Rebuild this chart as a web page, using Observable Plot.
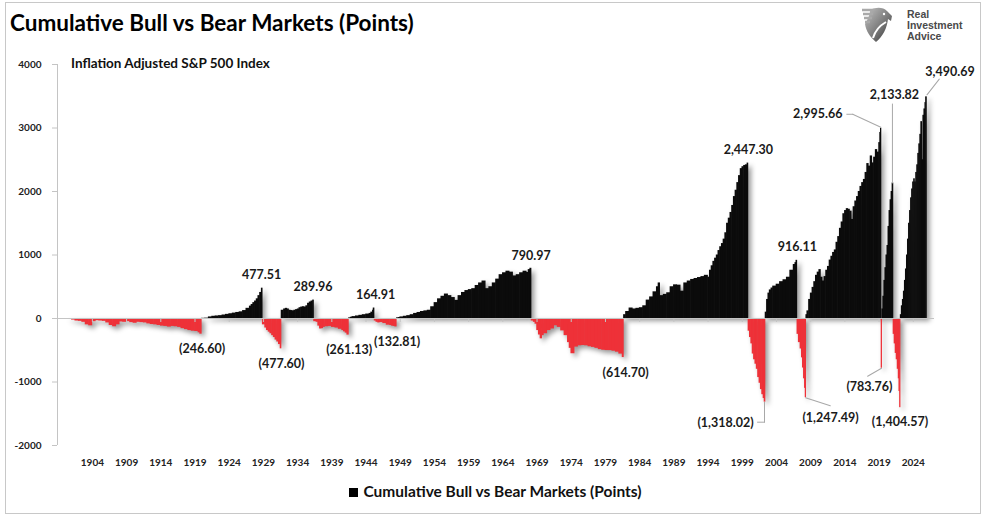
<!DOCTYPE html>
<html>
<head>
<meta charset="utf-8">
<script src="https://cdn.jsdelivr.net/npm/d3@7"></script>
<script src="https://cdn.jsdelivr.net/npm/@observablehq/plot@0.6"></script>
<style>
  html, body { margin: 0; padding: 0; background: #fff; }
  #wrap { position: relative; width: 991px; height: 522px; overflow: hidden; font-family: Lato, "Open Sans", sans-serif; }
  #frame { position: absolute; left: 5px; top: 2px; width: 976px; height: 512px; border: 1px solid #c8c8c8; box-sizing: border-box; }
  #title { position: absolute; left: 10px; top: 12px; font-size: 22.5px; line-height: 1; font-weight: 700; color: #000; white-space: nowrap; }
  #subtitle { position: absolute; left: 71px; top: 57px; font-size: 13.5px; line-height: 1; font-weight: 700; color: #111; white-space: nowrap; }
  #legend { position: absolute; left: 0; width: 991px; top: 484px; text-align: center; font-size: 15.5px; line-height: 1; font-weight: 700; color: #111; white-space: nowrap; }
  #legend .sw { display: inline-block; width: 9px; height: 9px; background: #000; margin-right: 5px; vertical-align: baseline; }
  #chart { position: absolute; left: 0; top: 0; }
  #logo { position: absolute; left: 861px; top: 7px; }
  #logotext { position: absolute; left: 907px; top: 9px; font-family: "Liberation Sans", Arial, sans-serif; font-size: 10.5px; font-weight: 700; line-height: 11px; color: #4a4a4a; }
  g[aria-label="rect"] { filter: drop-shadow(3px 3px 2.5px rgba(0,0,0,0.4)); }
</style>
</head>
<body>
<div id="wrap">
  <div id="frame"></div>
  <div id="title">Cumulative Bull vs Bear Markets (Points)</div>
  <svg id="logo" width="32" height="36" viewBox="0 0 32 36">
    <defs>
      <linearGradient id="lg" x1="0" y1="0" x2="1" y2="1">
        <stop offset="0" stop-color="#c2c2c2"/>
        <stop offset="0.55" stop-color="#7a7a7a"/>
        <stop offset="1" stop-color="#2e2e2e"/>
      </linearGradient>
    </defs>
    <path d="M9 3 C15 0 22 0 26 4 L31 9 L30 14 L27 12 C26 21 22 29 15 35 C9 30 5 24 4 17 C6 13 9 9 9 3 Z" fill="url(#lg)"/>
    <path d="M1 3 L13 3 M2 7 L12 7 M3 11 L11 11 M4 15 L9 15" stroke="#a9a9a9" stroke-width="2.4" fill="none"/>
    <path d="M12 31 C14 24 18 19 25 15" stroke="#fff" stroke-width="2" fill="none"/>
    <circle cx="23" cy="7" r="1.2" fill="#fff"/>
  </svg>
  <div id="logotext">Real<br>Investment<br>Advice</div>
  <div id="chart"></div>
  <div id="subtitle">Inflation Adjusted S&amp;P 500 Index</div>
  <div id="legend"><span class="sw"></span>Cumulative Bull vs Bear Markets (Points)</div>
</div>
<script>
// ---- data (decimal years, cumulative points) ----
const years = [
  // bear 1900-1920
  1900.5,1901,1901.5,1902,1902.5,1903,1903.5,1904,1904.5,1905,1905.5,1906,1906.5,1907,1907.5,1908,1908.5,1909,1909.5,1910,
  1910.5,1911,1911.5,1912,1912.5,1913,1913.5,1914,1914.5,1915,1915.5,1916,1916.5,1917,1917.5,1918,1918.5,1919,1919.5,1919.75,
  // bull 1920-1929
  1920,1920.5,1921,1921.5,1922,1922.5,1923,1923.5,1924,1924.5,1925,1925.5,1926,1926.5,1927,1927.25,1927.5,1927.75,1928,1928.25,1928.5,1928.75,
  // bear 1929-1932
  1928.9,1929.25,1929.5,1929.75,1930,1930.25,1930.5,1930.75,1931,1931.25,1931.5,
  // bull 1932-1936
  1931.65,1932,1932.25,1932.5,1932.75,1933,1933.25,1933.5,1933.75,1934,1934.25,1934.5,1934.75,1935,1935.25,1935.5,1935.75,1936,1936.25,
  // bear 1936-1941
  1936.4,1936.75,1937,1937.25,1937.5,1937.75,1938,1938.5,1939,1939.5,1940,1940.5,1940.75,1941,1941.25,
  // bull 1941-1945
  1941.5,1941.75,1942,1942.5,1943,1943.5,1944,1944.5,1944.75,1945,1945.1,
  // bear 1945-1948
  1945.25,1945.5,1945.75,1946,1946.5,1947,1947.5,1947.75,1948,1948.25,
  // bull 1948-1968
  1948.5,1948.75,1949,1949.5,1950,1950.5,1951,1951.5,1952,1952.5,1953,1953.5,1954,1954.5,1955,1955.5,1956,1956.5,1957,1957.5,
  1958,1958.5,1959,1959.5,1960,1960.5,1961,1961.5,1962,1962.5,1963,1963.5,1964,1964.5,1965,1965.5,1966,1966.5,1967,1967.5,1967.75,1968,
  // bear 1968-1981
  1968.2,1968.5,1968.75,1969,1969.25,1969.5,1969.75,1970,1970.5,1971,1971.5,1972,1972.5,1973,1973.5,1973.75,1974,1974.5,1975,1975.5,
  1976,1976.5,1977,1977.5,1978,1978.5,1979,1979.5,1980,1980.5,1981,1981.5,
  // bull 1981-2000
  1981.7,1982,1982.5,1983,1983.5,1984,1984.5,1985,1985.5,1986,1986.5,1986.75,1987,1987.5,1988,1988.5,1989,1989.5,1990,1990.5,
  1991,1991.5,1992,1992.5,1993,1993.5,1994,1994.25,1994.5,1994.75,1995,1995.25,1995.5,1995.75,1996,1996.25,1996.5,1996.75,1997,1997.25,
  1997.5,1997.75,1998,1998.25,1998.5,1998.75,1999,1999.25,1999.5,1999.75,
  // bear 2000-2002
  1999.9,2000.1,2000.3,2000.5,2000.7,2000.9,2001.1,2001.3,2001.5,2001.7,2001.9,2002.1,2002.25,
  // bull 2002-2007
  2002.4,2002.6,2002.8,2003,2003.25,2003.5,2004,2004.5,2005,2005.5,2006,2006.5,2006.75,2006.9,
  // bear 2007-2009
  2007.05,2007.25,2007.5,2007.7,2007.85,2008,2008.15,2008.25,
  // bull 2009-2020
  2008.35,2008.5,2008.75,2009,2009.25,2009.5,2009.75,2010,2010.25,2010.5,2010.75,2011,2011.25,2011.5,2011.75,2012,2012.25,2012.5,2012.75,2013,
  2013.25,2013.5,2013.75,2014,2014.25,2014.5,2014.75,2015,2015.25,2015.5,2015.75,2016,2016.25,2016.5,2016.75,2017,2017.25,2017.5,2017.75,2018,
  2018.25,2018.5,2018.75,2019,2019.15,2019.25,
  // bear 2020
  2019.35,
  // bull 2020-2021
  2019.45,2019.6,2019.75,2019.9,2020.05,2020.2,2020.35,2020.5,2020.65,2020.8,2020.95,
  // bear 2022
  2021.1,2021.25,2021.4,2021.55,2021.7,2021.85,2021.95,2022.05,
  // bull 2022-2025
  2022.15,2022.3,2022.45,2022.6,2022.75,2022.9,2023.05,2023.2,2023.35,2023.5,2023.65,2023.8,2023.95,2024.1,2024.25,2024.4,2024.55,2024.7,2024.85,2025,
  2025.15,2025.3,2025.45,2025.6,2025.75,2025.85
];
const values = [
  -15,-25,-40,-45,-60,-100,-115,-50,-35,-40,-45,-70,-110,-130,-100,-55,-60,-50,-65,-75,
  -60,-65,-70,-85,-95,-100,-110,-120,-125,-135,-125,-130,-140,-160,-175,-190,-200,-205,-225,-246.60,
  3,6,25,35,40,45,55,65,75,85,95,105,125,160,195,220,250,275,310,360,410,477.51,
  -100,-150,-190,-215,-240,-270,-300,-340,-370,-410,-477.60,
  130,150,160,150,130,125,120,130,140,150,170,180,185,180,200,240,260,275,289.96,
  -50,-60,-120,-165,-160,-140,-130,-125,-140,-150,-170,-190,-210,-230,-261.13,
  10,20,30,40,50,60,70,80,100,130,164.91,
  -40,-60,-70,-65,-80,-105,-110,-120,-125,-132.81,
  10,15,25,35,45,60,80,95,110,120,130,185,250,310,350,385,360,330,285,360,
  410,440,455,470,520,560,590,470,500,560,620,690,720,745,730,670,690,720,745,725,770,790.97,
  -40,-60,-90,-190,-260,-320,-270,-240,-190,-165,-115,-140,-195,-270,-380,-470,-555,-450,-430,-425,
  -430,-445,-455,-470,-490,-500,-505,-505,-515,-530,-560,-614.70,
  60,110,165,150,160,170,200,290,340,420,500,560,360,380,405,500,530,525,430,560,
  590,615,630,645,660,680,650,760,830,900,950,1000,1070,1130,1180,1250,1350,1500,1580,1670,
  1780,1920,2020,2140,2250,2360,2390,2410,2420,2447.30,
  -200,-300,-400,-560,-650,-720,-800,-930,-1020,-1120,-1200,-1260,-1318.02,
  100,300,400,450,480,510,540,580,610,650,760,850,880,916.11,
  -250,-380,-480,-620,-780,-950,-1100,-1247.49,
  60,120,300,400,490,580,680,730,770,650,590,660,760,820,920,980,1040,1080,1200,1290,
  1420,1520,1650,1700,1730,1720,1690,1560,1760,1850,1920,2000,2080,2140,2190,2300,2440,2400,2560,2450,
  2540,2660,2620,2770,2930,2995.66,
  -783.76,
  150,350,600,800,1000,1150,1450,1700,1870,2000,2133.82,
  -250,-400,-550,-650,-800,-950,-1150,-1404.57,
  60,200,300,430,600,780,1000,1250,1500,1700,1900,2040,2150,2200,2150,2300,2420,2600,2750,2900,
  3100,2500,3200,3300,3400,3490.69
];
const lastYearEnd = 2026.0;

const tickYears = [1904,1909,1914,1919,1924,1929,1934,1939,1944,1949,1954,1959,1964,1969,1974,1979,1984,1989,1994,1999,2004,2009,2014,2019,2024];
const yTicks = [-2000,-1000,0,1000,2000,3000,4000];

// labelled peaks and troughs
const labelYears  = [1928.75,1936.25,1945.1,1968.0,1999.75,2006.9,2019.25,2020.95,2025.85,1919.75,1931.5,1941.25,1948.25,1981.5,2002.25,2008.25,2019.35,2022.05];
const labelValues = [477.51,289.96,164.91,790.97,2447.30,916.11,2995.66,2133.82,3490.69,-246.60,-477.60,-261.13,-132.81,-614.70,-1318.02,-1247.49,-783.76,-1404.57];

// ---- build ----
const bars = years.map((t, i) => ({x1: t, x2: i < years.length - 1 ? years[i + 1] : lastYearEnd, v: values[i]}));
const fmt = d3.format(",.2f");
const labels = labelYears.map((t, i) => ({
  year: t, value: labelValues[i],
  text: labelValues[i] < 0 ? "(" + fmt(-labelValues[i]) + ")" : fmt(labelValues[i])
}));
// pixel offsets of each label from its bar end
const labelDx = [0,0,2,1,1,1,-63,2,24,2,1,2,2,3,-39,25,-12,0];
const labelDy = [-13,-13,-13,-12.5,-13,-13,-14,-88,-25,15,15,15,15,15,21,20,19,14];

// leader lines: [label index, dx, dy, length, rotate]
const leaders = [
  [6, 0, -1, 31, -65], [6, -28, -14, 6, -90],
  [7, 0, 0, 79, 0],
  [8, 1, -2, 20, 38],
  [14, 0, 0, 20, 180], [14, 0, 20, 7, -90],
  [15, 0, 0, 26, 108],
  [16, 0, 0, 16, 240]
];
const lineShape = {draw(ctx, l) { ctx.moveTo(0, 0); ctx.lineTo(0, -l); }};

const font = "Lato, 'Open Sans', sans-serif";
const marks = [
  Plot.ruleX([1898.9], {stroke: "#c4c4c4", strokeWidth: 1}),
  Plot.rect(bars.filter(d => d.v >= 0), {x1: "x1", x2: "x2", y1: 0, y2: "v", fill: "#0b0b0b", insetLeft: -0.3, insetRight: -0.3}),
  Plot.rect(bars.filter(d => d.v < 0), {x1: "x1", x2: "x2", y1: 0, y2: "v", fill: "#ee3138", insetLeft: -0.3, insetRight: -0.3}),
  Plot.ruleY([0], {stroke: "#c4c4c4", strokeWidth: 1}),
  Plot.ruleX(tickYears, {x: d => d, y1: 0, y2: 0, insetTop: 0, insetBottom: -4, stroke: "#c4c4c4"}),
  Plot.axisY({ticks: yTicks, tickSize: 5, tickPadding: 11, stroke: "#c4c4c4", fill: "#222", fontSize: 10, fontWeight: 700, fontFamily: font, tickFormat: d => String(d)}),
  Plot.axisX({ticks: tickYears, tickSize: 0, tickPadding: 13, fill: "#222", fontSize: 10, fontWeight: 700, fontFamily: font, tickFormat: d => String(d)}),
  ...leaders.map(([k, dx, dy, len, rot]) =>
    Plot.vector([labels[k]], {x: "year", y: "value", dx, dy, length: len, rotate: rot, anchor: "start", shape: lineShape, stroke: "#a8a8a8", strokeWidth: 1})),
  ...labels.map((lab, i) =>
    Plot.text([lab], {x: "year", y: "value", text: "text", dx: labelDx[i], dy: labelDy[i], lineAnchor: "middle", textAnchor: "middle", fontSize: 12.5, fontWeight: 700, fontFamily: font, fill: "#1a1a1a"}))
];

const chart = Plot.plot({
  width: 991, height: 522,
  marginTop: 64, marginBottom: 77, marginLeft: 57, marginRight: 57,
  style: {background: "transparent", fontFamily: font, overflow: "visible"},
  x: {domain: [1898.9, 2027.1], label: null},
  y: {domain: [-2000, 4000], label: null},
  marks
});
document.getElementById("chart").appendChild(chart);
</script>
</body>
</html>
